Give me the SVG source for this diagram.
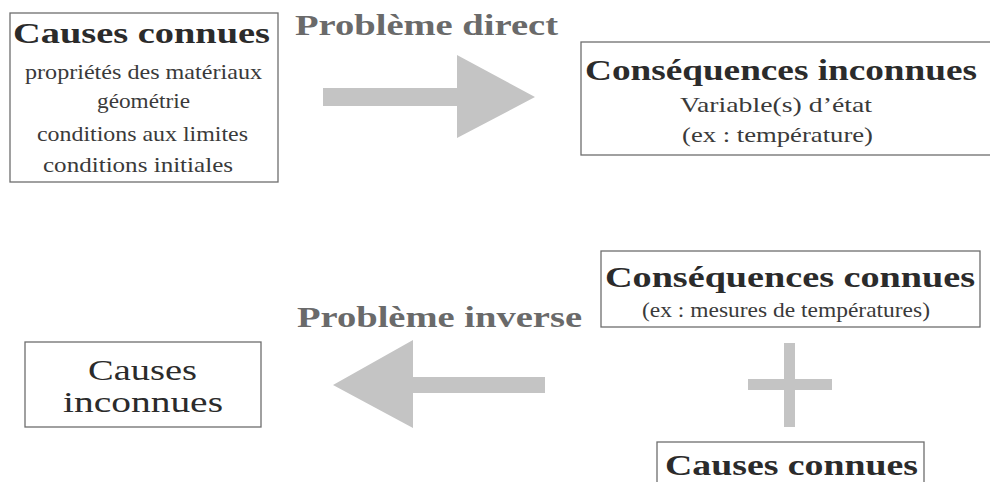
<svg xmlns="http://www.w3.org/2000/svg" width="990" height="482" viewBox="0 0 990 482">
<style>
.box{fill:#fff;stroke:#6e6e6e;stroke-width:1.3}
.t{font-family:"Liberation Serif","DejaVu Serif",serif;fill:#2b2b2b;font-weight:bold;font-size:30px}
.s{font-family:"Liberation Serif","DejaVu Serif",serif;fill:#3a3a3a;font-size:21px}
.r{font-family:"Liberation Serif","DejaVu Serif",serif;fill:#2b2b2b;font-size:29px}
.lbl{font-family:"Liberation Serif","DejaVu Serif",serif;fill:#6a6a6a;font-weight:bold;font-size:30px}
.arr{fill:#c4c4c4}
</style>
<rect width="990" height="482" fill="#fff"/>
<g id="causes-connues-1">
<rect class="box" x="10" y="13" width="268" height="169"/>
<text class="t" x="13" y="43" textLength="257" lengthAdjust="spacingAndGlyphs">Causes connues</text>
<text class="s" x="25" y="79" textLength="237" lengthAdjust="spacingAndGlyphs">propriétés des matériaux</text>
<text class="s" x="97" y="108" textLength="93" lengthAdjust="spacingAndGlyphs">géométrie</text>
<text class="s" x="37" y="141" textLength="211" lengthAdjust="spacingAndGlyphs">conditions aux limites</text>
<text class="s" x="43" y="172" textLength="190" lengthAdjust="spacingAndGlyphs">conditions initiales</text>
</g>
<g id="consequences-inconnues">
<rect class="box" x="581" y="42" width="430" height="113"/>
<text class="t" x="585" y="80" textLength="392" lengthAdjust="spacingAndGlyphs">Conséquences inconnues</text>
<text class="s" x="680" y="112" textLength="192" lengthAdjust="spacingAndGlyphs">Variable(s) d’état</text>
<text class="s" x="682" y="142" textLength="191" lengthAdjust="spacingAndGlyphs">(ex : température)</text>
</g>
<g id="consequences-connues">
<rect class="box" x="601" y="251" width="379" height="76"/>
<text class="t" x="605" y="287" textLength="370" lengthAdjust="spacingAndGlyphs">Conséquences connues</text>
<text class="s" x="642" y="317" textLength="288" lengthAdjust="spacingAndGlyphs">(ex : mesures de températures)</text>
</g>
<g id="causes-inconnues">
<rect class="box" x="25" y="342" width="236" height="85"/>
<text class="r" x="88" y="380" textLength="109" lengthAdjust="spacingAndGlyphs">Causes</text>
<text class="r" x="63" y="412" textLength="160" lengthAdjust="spacingAndGlyphs">inconnues</text>
</g>
<g id="causes-connues-2">
<rect class="box" x="657" y="442" width="267" height="60"/>
<text class="t" x="665" y="475" textLength="253" lengthAdjust="spacingAndGlyphs">Causes connues</text>
</g>
<g id="connectors">
<polygon class="arr" points="323,88 457,88 457,55 535,97 457,138 457,106 323,106"/>
<text class="lbl" x="295" y="35" textLength="263" lengthAdjust="spacingAndGlyphs">Problème direct</text>
<polygon class="arr" points="545,377 413,377 413,340 333,385 413,428 413,393 545,393"/>
<text class="lbl" x="297" y="327" textLength="285" lengthAdjust="spacingAndGlyphs">Problème inverse</text>
<rect class="arr" x="784" y="343" width="11" height="84"/>
<rect class="arr" x="748" y="379" width="84" height="11"/>
</g>
</svg>
